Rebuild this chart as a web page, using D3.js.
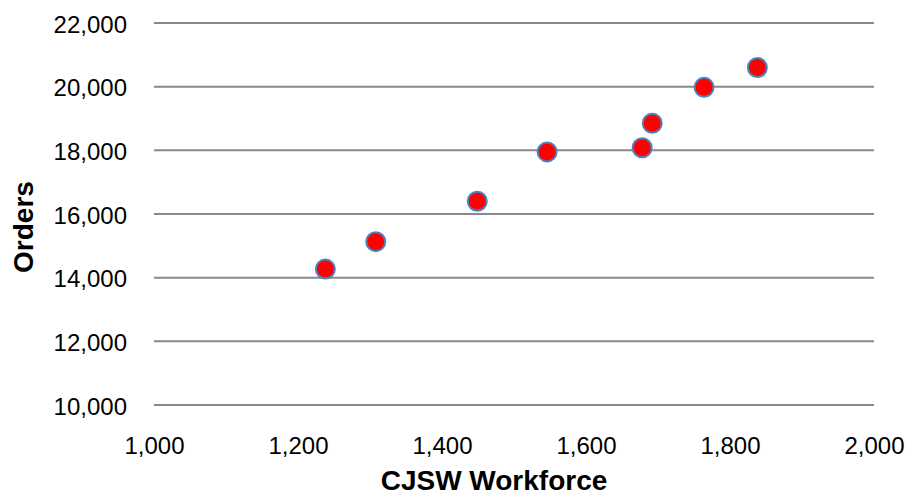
<!DOCTYPE html>
<html>
<head>
<meta charset="utf-8">
<script src="https://cdn.jsdelivr.net/npm/d3@7"></script>
<style>
  html, body { margin: 0; padding: 0; background: #fff; }
  svg text { font-family: "Liberation Sans", Arial, sans-serif; fill: #000; }
</style>
</head>
<body>
<svg id="chart" width="910" height="496"></svg>
<script>
const workforce = [1238, 1308, 1449, 1546, 1678, 1692, 1764, 1838];
const orders    = [14270, 15130, 16400, 17950, 18080, 18850, 19980, 20600];
const xTicks = [1000, 1200, 1400, 1600, 1800, 2000];
const yTicks = [10000, 12000, 14000, 16000, 18000, 20000, 22000];
const xTitle = "CJSW Workforce";
const yTitle = "Orders";

const svg = d3.select("#chart");
const x = d3.scaleLinear().domain([1000, 2000]).range([154, 874]);
const y = d3.scaleLinear().domain([10000, 22000]).range([405, 23]);
const fmt = d3.format(",");

// gridlines
svg.append("g").selectAll("line").data(yTicks).join("line")
  .attr("x1", x(1000)).attr("x2", x(2000))
  .attr("y1", d => y(d)).attr("y2", d => y(d))
  .attr("stroke", "#898989").attr("stroke-width", 2);

// y axis labels
const yAxis = d3.axisLeft(y).tickValues(yTicks).tickFormat(fmt).tickSize(0).tickPadding(0);
const gy = svg.append("g").attr("transform", "translate(127,0)").call(yAxis);
gy.select(".domain").remove();
gy.selectAll("text").attr("font-size", 24).attr("font-family", "Liberation Sans, Arial, sans-serif").attr("fill", "#000").attr("dy", "0.38em");

// x axis labels
const xAxis = d3.axisBottom(x).tickValues(xTicks).tickFormat(fmt).tickSize(0).tickPadding(0);
const gx = svg.append("g").attr("transform", "translate(0,437)").call(xAxis);
gx.select(".domain").remove();
gx.selectAll("text").attr("font-size", 24).attr("font-family", "Liberation Sans, Arial, sans-serif").attr("fill", "#000").attr("dy", "0.71em");

// titles
svg.append("text").attr("x", 494).attr("y", 490)
  .attr("text-anchor", "middle").attr("font-size", 28).attr("font-weight", "bold")
  .text(xTitle);
svg.append("text").attr("transform", "translate(33,227) rotate(-90)")
  .attr("text-anchor", "middle").attr("font-size", 28).attr("font-weight", "bold")
  .text(yTitle);

// points
svg.append("g").selectAll("circle").data(workforce.map((w, i) => [w, orders[i]])).join("circle")
  .attr("cx", d => x(d[0])).attr("cy", d => y(d[1]))
  .attr("r", 9.5)
  .attr("fill", "#ff0000")
  .attr("stroke", "#4f81bd").attr("stroke-width", 2);
</script>
</body>
</html>
